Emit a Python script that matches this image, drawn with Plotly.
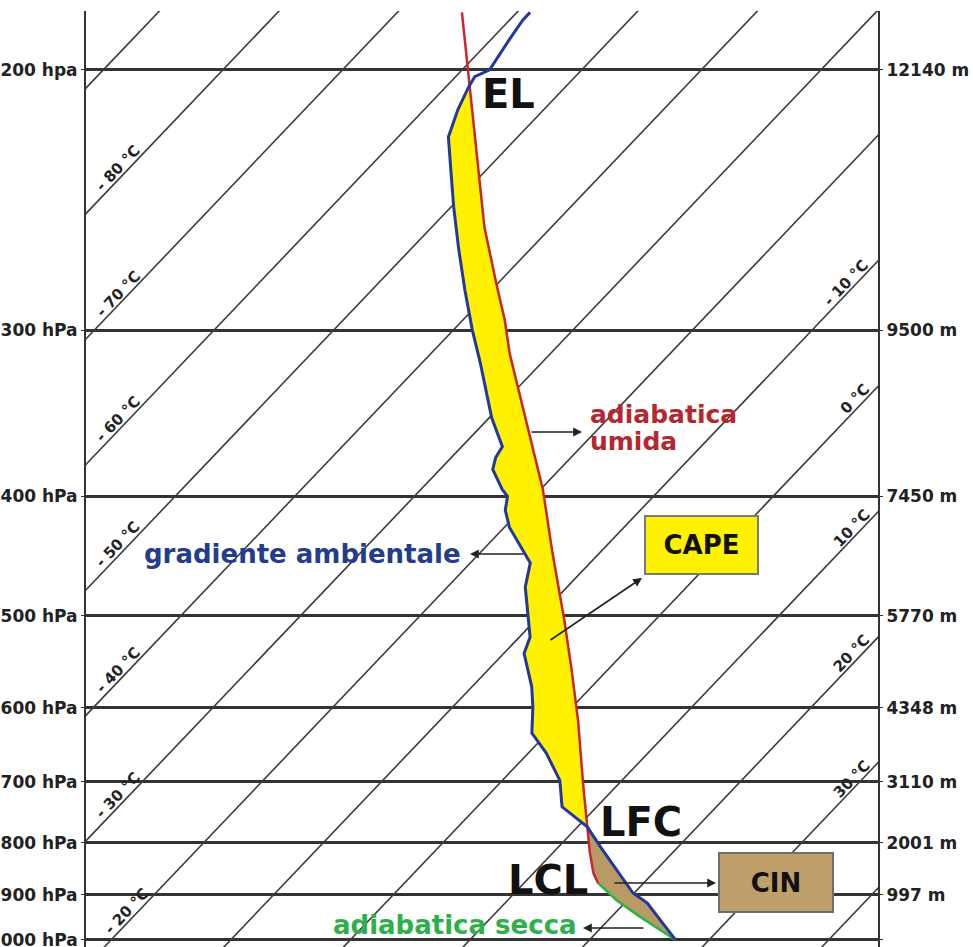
import math
import numpy as np
import plotly.graph_objects as go

# ---------------- data ----------------
LEVELS_HPA = [200, 300, 400, 500, 600, 700, 800, 900, 1000]
LEFT_LABELS = ["200 hpa", "300 hPa", "400 hPa", "500 hPa", "600 hPa",
               "700 hPa", "800 hPa", "900 hPa", "1000 hPa"]
HEIGHT_LABELS = ["12140 m", "9500 m", "7450 m", "5770 m", "4348 m",
                 "3110 m", "2001 m", "997 m", ""]

ISOTHERMS_C = list(range(-90, 41, 10))
ISO_LABELS_LEFT = [-80, -70, -60, -50, -40, -30, -20]
ISO_LABELS_RIGHT = [-10, 0, 10, 20, 30]

# environmental profile (gradiente ambientale)
ENV_P = [184, 186, 191, 200, 202, 205, 212, 221, 231, 246, 263, 281, 300, 317,
         348, 366, 373, 381, 395, 400, 410, 423, 441, 452, 473, 494, 521, 538,
         575, 599, 632, 659, 698, 739, 756, 772, 807, 850, 896, 917, 1000]
ENV_T = [-58.9, -58.9, -58.5, -57.7, -58.4, -58.1, -57.2, -55.8, -53.3, -49.8,
         -46.0, -42.2, -38.4, -35.1, -29.8, -26.6, -26.3, -25.6, -23.2, -22.2,
         -21.3, -19.6, -16.7, -15.0, -13.5, -11.5, -9.1, -8.3, -5.0, -3.3,
         -1.3, 1.5, 4.8, 7.1, 9.0, 10.8, 13.5, 16.7, 19.9, 21.9, 27.2]

# parcel on the moist adiabat (adiabatica umida), from LCL upward
MOIST_P = [876, 856, 818, 772, 708, 615, 556, 504, 444, 395, 366, 339, 312,
           295, 278, 254, 231, 205, 200, 184]
MOIST_T = [16.2, 15.0, 13.1, 10.8, 7.3, 1.5, -3.0, -7.6, -13.9, -19.8, -24.1,
           -28.5, -33.4, -36.5, -40.1, -45.6, -51.0, -58.0, -59.5, -64.6]

# parcel on the dry adiabat (adiabatica secca), surface to LCL
DRY_P = [1000, 947, 911, 876]
DRY_T = [27.2, 22.4, 19.1, 16.2]

EL_P, LFC_P, LCL_P = 205, 772, 876

# ---------------- diagram scales ----------------
W, H = 973, 947
PLOT_L, PLOT_R, PLOT_T, PLOT_B = 86, 878, 11, 947
EXPO = 0.3            # vertical coordinate = p ** -EXPO
SKEW = 887.6          # isotherm skew (deg C per unit of vertical coordinate)
X_RANGE = [-22.09, 44.13]
Y_RANGE = [0.12526, 0.20932]


def yc(p):
    return np.asarray(p, dtype=float) ** (-EXPO)


Y_REF = float(yc(1000))


def xc(t, p):
    return np.asarray(t, dtype=float) + SKEW * (yc(p) - Y_REF)


def data_to_px(X, Y):
    xp = PLOT_L + (X - X_RANGE[0]) / (X_RANGE[1] - X_RANGE[0]) * (PLOT_R - PLOT_L)
    yp = PLOT_B - (Y - Y_RANGE[0]) / (Y_RANGE[1] - Y_RANGE[0]) * (PLOT_B - PLOT_T)
    return xp, yp


def paper(xp, yp):
    return (xp - PLOT_L) / (PLOT_R - PLOT_L), (PLOT_B - yp) / (PLOT_B - PLOT_T)


FONT = "DejaVu Sans"
GRID = "#333333"
TXT = "#222222"

fig = go.Figure()

# isotherms
ys = np.array([Y_RANGE[0] - 0.01, Y_RANGE[1] + 0.01])
for T in ISOTHERMS_C:
    fig.add_trace(go.Scatter(x=T + SKEW * (ys - Y_REF), y=ys, mode="lines",
                             line=dict(color="#3c3c3c", width=1.6),
                             hoverinfo="skip", showlegend=False))

env_p = np.array(ENV_P, float); env_t = np.array(ENV_T, float)
mo_p = np.array(MOIST_P, float); mo_t = np.array(MOIST_T, float)
dr_p = np.array(DRY_P, float); dr_t = np.array(DRY_T, float)

# CAPE area
m1 = (env_p >= EL_P) & (env_p <= LFC_P)
m2 = (mo_p >= EL_P) & (mo_p <= LFC_P)
o1 = np.argsort(env_p[m1]); o2 = np.argsort(-mo_p[m2])
cape_p = np.concatenate([env_p[m1][o1], mo_p[m2][o2]])
cape_t = np.concatenate([env_t[m1][o1], mo_t[m2][o2]])
fig.add_trace(go.Scatter(x=xc(cape_t, cape_p), y=yc(cape_p), mode="lines",
                         fill="toself", fillcolor="#FFF100",
                         line=dict(width=0, color="#FFF100"),
                         hoverinfo="skip", showlegend=False))

# CIN area
m3 = env_p >= LFC_P
m4 = (mo_p <= LCL_P) & (mo_p >= LFC_P)
o3 = np.argsort(env_p[m3]); o4 = np.argsort(-dr_p); o5 = np.argsort(-mo_p[m4])
cin_p = np.concatenate([env_p[m3][o3], dr_p[o4], mo_p[m4][o5]])
cin_t = np.concatenate([env_t[m3][o3], dr_t[o4], mo_t[m4][o5]])
fig.add_trace(go.Scatter(x=xc(cin_t, cin_p), y=yc(cin_p), mode="lines",
                         fill="toself", fillcolor="#B99A63",
                         line=dict(width=0, color="#B99A63"),
                         hoverinfo="skip", showlegend=False))

# curves
fig.add_trace(go.Scatter(x=xc(MOIST_T, MOIST_P), y=yc(MOIST_P), mode="lines",
                         line=dict(color="#C8262C", width=2.5),
                         hoverinfo="skip", showlegend=False))
fig.add_trace(go.Scatter(x=xc(DRY_T, DRY_P), y=yc(DRY_P), mode="lines",
                         line=dict(color="#2EB34B", width=2.5),
                         hoverinfo="skip", showlegend=False))
fig.add_trace(go.Scatter(x=xc(ENV_T, ENV_P), y=yc(ENV_P), mode="lines",
                         line=dict(color="#22389A", width=3),
                         hoverinfo="skip", showlegend=False))
# carrier for the right-hand axis
fig.add_trace(go.Scatter(x=[X_RANGE[0]], y=[Y_RANGE[0]], yaxis="y2",
                         mode="markers", marker=dict(opacity=0),
                         hoverinfo="skip", showlegend=False))

tickvals = list(yc(LEVELS_HPA))
ann = []

# isotherm labels
X0, Y0 = data_to_px(0.0, Y_REF)
X1, Y1 = data_to_px(SKEW * 0.01, Y_REF + 0.01)
L = math.hypot(X1 - X0, Y1 - Y0)
dx, dy = (X1 - X0) / L, (Y1 - Y0) / L
nx, ny = dy, -dx
angle = -math.degrees(math.atan2(-dy, dx))


def iso_text(T):
    return f"<b>- {abs(T)} °C</b>" if T < 0 else f"<b>{T} °C</b>"


for T in ISO_LABELS_LEFT:
    ye = Y_REF + (X_RANGE[0] - T) / SKEW
    ex, ey = data_to_px(X_RANGE[0], ye)
    along, perp = (68 if ey > PLOT_B else 55), 8
    cx, cy = ex + along * dx + perp * nx, ey + along * dy + perp * ny
    px_, py_ = paper(cx, cy)
    ann.append(dict(x=px_, y=py_, xref="paper", yref="paper", text=iso_text(T),
                    showarrow=False, textangle=angle, xanchor="center",
                    yanchor="middle", font=dict(family=FONT, size=15, color=TXT)))

for T in ISO_LABELS_RIGHT:
    ye = Y_REF + (X_RANGE[1] - T) / SKEW
    ex, ey = data_to_px(X_RANGE[1], ye)
    n = len(iso_text(T)) - 7
    along, perp = 8 + n * 4.3, 8
    cx, cy = ex - along * dx + perp * nx, ey - along * dy + perp * ny
    px_, py_ = paper(cx, cy)
    ann.append(dict(x=px_, y=py_, xref="paper", yref="paper", text=iso_text(T),
                    showarrow=False, textangle=angle, xanchor="center",
                    yanchor="middle", font=dict(family=FONT, size=15, color=TXT)))


def text_ann(text, xp, yp, size, color, xanchor="center", **kw):
    px_, py_ = paper(xp, yp)
    d = dict(x=px_, y=py_, xref="paper", yref="paper", text=text,
             showarrow=False, xanchor=xanchor, yanchor="middle",
             font=dict(family=FONT, size=size, color=color))
    d.update(kw)
    return d


def arrow(head, tail):
    px_, py_ = paper(*head)
    return dict(x=px_, y=py_, xref="paper", yref="paper", text="",
                showarrow=True, ax=tail[0] - head[0], ay=tail[1] - head[1],
                arrowhead=2, arrowsize=1.1, arrowwidth=1.6, arrowcolor="#222222",
                standoff=0)


ann += [
    text_ann("<b>EL</b>", 508, 94, 40, "#111111"),
    text_ann("<b>LFC</b>", 641, 822, 40, "#111111"),
    text_ann("<b>LCL</b>", 548, 880, 40, "#111111"),
    text_ann("<b>CAPE</b>", 701, 545, 26, "#111111", bgcolor="#FFF200",
             bordercolor="#7a7a7a", borderwidth=2, borderpad=0,
             width=111, height=56),
    text_ann("<b>CIN</b>", 776, 882, 26, "#111111", bgcolor="#BFA06A",
             bordercolor="#6e6e6e", borderwidth=2, borderpad=0,
             width=112, height=57),
    text_ann("<b>adiabatica</b>", 588, 414, 25, "#B3282E", xanchor="left"),
    text_ann("<b>umida</b>", 588, 441, 25, "#B3282E", xanchor="left"),
    text_ann("<b>gradiente ambientale</b>", 463, 554, 26, "#233C8C",
             xanchor="right"),
    text_ann("<b>adiabatica secca</b>", 579, 925, 26, "#2DB04B",
             xanchor="right"),
    arrow((582, 432), (530, 432)),
    arrow((470, 554), (525, 554)),
    arrow((642, 578), (549, 641)),
    arrow((716, 883), (613, 883)),
    arrow((583, 928), (645, 928)),
]

fig.update_layout(
    width=W, height=H,
    margin=dict(l=PLOT_L, r=W - PLOT_R, t=PLOT_T, b=H - PLOT_B, pad=0,
                autoexpand=False),
    paper_bgcolor="white", plot_bgcolor="white",
    showlegend=False, hovermode=False,
    xaxis=dict(range=X_RANGE, visible=False, fixedrange=True, automargin=False),
    yaxis=dict(range=Y_RANGE, tickmode="array", tickvals=tickvals,
               ticktext=[f"<b>{t}</b>" for t in LEFT_LABELS],
               showgrid=True, gridcolor=GRID, gridwidth=2.5, zeroline=False,
               showline=True, linecolor=GRID, linewidth=2, automargin=False,
               ticks="outside", ticklen=3, tickcolor=GRID,
               ticklabeloverflow="allow",
               tickfont=dict(family=FONT, size=17, color=TXT), fixedrange=True),
    yaxis2=dict(range=Y_RANGE, overlaying="y", side="right", tickmode="array",
                tickvals=tickvals, automargin=False,
                ticktext=[f"<b>{t}</b>" if t else "" for t in HEIGHT_LABELS],
                showgrid=False, zeroline=False, showline=True, linecolor=GRID,
                linewidth=2, ticks="outside", ticklen=3, tickcolor=GRID,
                ticklabeloverflow="allow",
                tickfont=dict(family=FONT, size=17, color=TXT), fixedrange=True),
    annotations=ann,
)

fig.write_html("out.html", config={"displayModeBar": False},
               post_script="document.body.style.margin='0';"
                           "document.body.style.overflow='hidden';")
